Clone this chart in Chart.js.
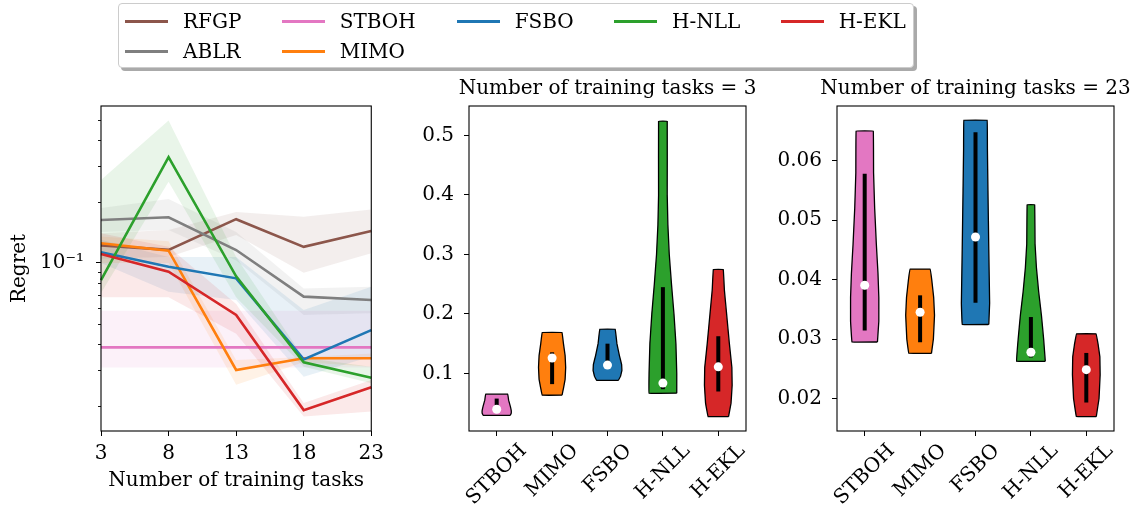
<!DOCTYPE html>
<html>
<head>
<meta charset="utf-8">
<script src="https://cdn.jsdelivr.net/npm/chart.js@4.4.0/dist/chart.umd.min.js"></script>
<style>
  body { margin: 0; background: #fff; }
  #wrap { position: relative; width: 1138px; height: 510px; overflow: hidden; }
  canvas { position: absolute; top: 0; }
  #legend {
    position: absolute; left: 118px; top: 3px; width: 796px; height: 65px;
    box-sizing: border-box; border: 1px solid #ccc; border-radius: 4px;
    box-shadow: 3px 3px 0 #aaa; background: #fff;
    display: grid; grid-template-rows: 30px 30px;
    grid-template-columns: 156.7px 175px 157.3px 166.7px auto;
    padding: 2px 0 0 6px;
    font: 20px 'DejaVu Serif', serif; color: #000;
  }
  #legend .item { display: flex; align-items: center; }
  #legend .swatch { display: inline-block; width: 43px; height: 3px; margin-right: 15px; }
</style>
</head>
<body>
<div id="wrap">
  <canvas id="lineChart" width="390" height="510" style="left:0"></canvas>
  <canvas id="violin3" width="370" height="510" style="left:390px"></canvas>
  <canvas id="violin23" width="378" height="510" style="left:760px"></canvas>
  <div id="legend"></div>
</div>
<script>
// ---- data ----
const methods = ['RFGP', 'ABLR', 'STBOH', 'MIMO', 'FSBO', 'H-NLL', 'H-EKL'];
const colours = {
  'RFGP': '#8c564b', 'ABLR': '#7f7f7f', 'STBOH': '#e377c2', 'MIMO': '#ff7f0e',
  'FSBO': '#1f77b4', 'H-NLL': '#2ca02c', 'H-EKL': '#d62728',
};
const taskLabels = ['3', '8', '13', '18', '23'];

const rfgpMean = [0.122, 0.116, 0.164, 0.120, 0.1435];
const rfgpLow = [0.105, 0.107, 0.137, 0.0897, 0.1116];
const rfgpHigh = [0.140, 0.145, 0.178, 0.1686, 0.183];
const ablrMean = [0.1625, 0.1675, 0.1158, 0.0684, 0.0659];
const ablrLow = [0.142, 0.145, 0.103, 0.0556, 0.0567];
const ablrHigh = [0.186, 0.206, 0.142, 0.075, 0.0765];
const stbohMean = [0.0386, 0.0386, 0.0386, 0.0386, 0.0386];
const stbohLow = [0.0307, 0.0307, 0.0307, 0.0307, 0.0307];
const stbohHigh = [0.0584, 0.0584, 0.0584, 0.0584, 0.0584];
const mimoMean = [0.125, 0.115, 0.0299, 0.0341, 0.0341];
const mimoLow = [0.1, 0.1, 0.0253, 0.0326, 0.031];
const mimoHigh = [0.135, 0.128, 0.0335, 0.0346, 0.036];
const fsboMean = [0.1128, 0.0959, 0.0841, 0.0337, 0.0469];
const fsboLow = [0.1, 0.0723, 0.0659, 0.0277, 0.0348];
const fsboHigh = [0.13, 0.107, 0.107, 0.0588, 0.0765];
const hnllMean = [0.0825, 0.33, 0.086, 0.0326, 0.0274];
const hnllLow = [0.0713, 0.25, 0.068, 0.031, 0.0257];
const hnllHigh = [0.255, 0.5, 0.107, 0.0343, 0.031];
const heklMean = [0.1107, 0.0907, 0.0556, 0.019, 0.0246];
const heklLow = [0.068, 0.068, 0.045, 0.0177, 0.0187];
const heklHigh = [0.14, 0.12, 0.063, 0.0206, 0.0267];

const leftTickLabel = '10\u207B\u00B9';
const leftMajorTicks = [0.1];
const leftMinorTicks = [0.02, 0.03, 0.04, 0.05, 0.06, 0.07, 0.08, 0.09, 0.2, 0.3, 0.4, 0.5];

const violinNames = ['STBOH', 'MIMO', 'FSBO', 'H-NLL', 'H-EKL'];

// 3 training tasks: outline as [regret, half width] from bottom to top
const t3Outline = [
  [[0.0296, 0.245], [0.033, 0.262], [0.038, 0.262], [0.045, 0.245], [0.055, 0.215], [0.065, 0.2]],
  [[0.0634, 0.18], [0.075, 0.205], [0.09, 0.235], [0.11, 0.245], [0.13, 0.235], [0.15, 0.205], [0.1687, 0.18]],
  [[0.0882, 0.195], [0.095, 0.235], [0.105, 0.26], [0.115, 0.255], [0.13, 0.215], [0.15, 0.17], [0.1744, 0.14]],
  [[0.0668, 0.25], [0.1, 0.25], [0.15, 0.235], [0.2, 0.2], [0.25, 0.155], [0.3, 0.115], [0.35, 0.09], [0.4, 0.078], [0.524, 0.078]],
  [[0.0273, 0.185], [0.05, 0.23], [0.08, 0.25], [0.11, 0.245], [0.15, 0.2], [0.2, 0.15], [0.24, 0.11], [0.2746, 0.09]],
];
const t3Q1 = [0.037, 0.082, 0.11, 0.0735, 0.0696];
const t3Median = [0.0397, 0.126, 0.114, 0.0837, 0.111];
const t3Q3 = [0.0577, 0.1355, 0.15, 0.245, 0.1625];
const t3Ticks = [0.1, 0.2, 0.3, 0.4, 0.5];

// 23 training tasks
const t23Outline = [
  [[0.0295, 0.23], [0.033, 0.255], [0.037, 0.255], [0.041, 0.24], [0.046, 0.21], [0.052, 0.18], [0.058, 0.16], [0.065, 0.155]],
  [[0.0276, 0.205], [0.03, 0.24], [0.034, 0.26], [0.037, 0.245], [0.04, 0.21], [0.04175, 0.18]],
  [[0.03245, 0.24], [0.036, 0.255], [0.045, 0.24], [0.055, 0.225], [0.062, 0.215], [0.0668, 0.21]],
  [[0.02625, 0.26], [0.03, 0.23], [0.034, 0.19], [0.038, 0.14], [0.042, 0.1], [0.046, 0.075], [0.0526, 0.068]],
  [[0.01696, 0.18], [0.02, 0.23], [0.024, 0.25], [0.027, 0.245], [0.029, 0.215], [0.03087, 0.175]],
];
const t23Q1 = [0.03144, 0.02946, 0.0361, 0.0269, 0.01932];
const t23Median = [0.03904, 0.0345, 0.04716, 0.02777, 0.02485];
const t23Q3 = [0.0578, 0.03735, 0.0648, 0.0337, 0.02766];
const t23Ticks = [0.02, 0.03, 0.04, 0.05, 0.06];

// ---- helpers ----
function alpha(hex, a) {
  const n = parseInt(hex.slice(1), 16);
  return `rgba(${(n >> 16) & 255},${(n >> 8) & 255},${n & 255},${a})`;
}

Chart.defaults.font.family = "'DejaVu Serif', serif";
Chart.defaults.font.size = 20;
Chart.defaults.color = '#000';
Chart.defaults.animation = false;

const FONT = "20px 'DejaVu Serif', serif";

// frame, titles, minor ticks and rotated labels
const decor = {
  id: 'decor',
  afterDraw(chart, args, opts) {
    const { ctx, chartArea: a } = chart;
    ctx.save();
    ctx.strokeStyle = '#000';
    ctx.lineWidth = 1.1;
    ctx.strokeRect(a.left, a.top, a.right - a.left, a.bottom - a.top);
    ctx.fillStyle = '#000';
    ctx.font = FONT;
    if (opts.title) {
      ctx.textAlign = 'center';
      ctx.textBaseline = 'alphabetic';
      ctx.fillText(opts.title, (a.left + a.right) / 2, a.top - 12);
    }
    if (opts.xTitle) {
      ctx.textAlign = 'center';
      ctx.textBaseline = 'alphabetic';
      ctx.fillText(opts.xTitle, (a.left + a.right) / 2, 486);
    }
    if (opts.yTitle) {
      ctx.save();
      ctx.translate(25, (a.top + a.bottom) / 2);
      ctx.rotate(-Math.PI / 2);
      ctx.textAlign = 'center';
      ctx.textBaseline = 'alphabetic';
      ctx.fillText(opts.yTitle, 0, 0);
      ctx.restore();
    }
    if (opts.minorTicks) {
      const y = chart.scales.y;
      ctx.lineWidth = 0.9;
      opts.minorTicks.forEach((v) => {
        const py = Math.round(y.getPixelForValue(v)) + 0.5;
        ctx.beginPath();
        ctx.moveTo(a.left - 3, py);
        ctx.lineTo(a.left, py);
        ctx.stroke();
      });
    }
    if (opts.rotatedLabels) {
      const x = chart.scales.x;
      opts.rotatedLabels.forEach((label, i) => {
        const w = ctx.measureText(label).width;
        const box = (w + 22) * Math.SQRT1_2;
        ctx.save();
        ctx.translate(x.getPixelForValue(i + 1), a.bottom + 9 + box / 2);
        ctx.rotate(-Math.PI / 4);
        ctx.textAlign = 'center';
        ctx.textBaseline = 'middle';
        ctx.fillText(label, 0, 0);
        ctx.restore();
      });
    }
    ctx.restore();
  },
};

// ---- left: regret vs number of training tasks ----
const lineSeries = [
  ['RFGP', rfgpMean, rfgpLow, rfgpHigh],
  ['ABLR', ablrMean, ablrLow, ablrHigh],
  ['STBOH', stbohMean, stbohLow, stbohHigh],
  ['MIMO', mimoMean, mimoLow, mimoHigh],
  ['FSBO', fsboMean, fsboLow, fsboHigh],
  ['H-NLL', hnllMean, hnllLow, hnllHigh],
  ['H-EKL', heklMean, heklLow, heklHigh],
];
const lineDatasets = [];
lineSeries.forEach(([name, mean, low, high], i) => {
  lineDatasets.push({ data: low, borderWidth: 0, pointRadius: 0, fill: false, order: 100 - i });
  lineDatasets.push({
    data: high, borderWidth: 0, pointRadius: 0, fill: '-1',
    backgroundColor: alpha(colours[name], 0.1), order: 100 - i,
  });
  lineDatasets.push({
    label: name, data: mean, borderColor: colours[name], borderWidth: 2.6,
    pointRadius: 0, fill: false, order: 20 - i,
  });
});

new Chart(document.getElementById('lineChart'), {
  type: 'line',
  data: { labels: taskLabels, datasets: lineDatasets },
  options: {
    responsive: false,
    layout: { autoPadding: false, padding: { left: 0, top: 106, right: 12, bottom: 0 } },
    plugins: {
      legend: { display: false },
      tooltip: { enabled: false },
      decor: { xTitle: 'Number of training tasks', yTitle: 'Regret', minorTicks: leftMinorTicks },
    },
    scales: {
      x: {
        offset: false,
        grid: { drawOnChartArea: false, tickLength: 5, tickColor: '#000' },
        border: { display: false },
        ticks: { padding: 6, maxRotation: 0, autoSkip: false },
        afterFit: (s) => { s.height = 79; },
      },
      y: {
        type: 'logarithmic',
        min: 0.01501,
        max: 0.5884,
        grid: { drawOnChartArea: false, tickLength: 5, tickColor: '#000' },
        border: { display: false },
        afterBuildTicks: (s) => { s.ticks = leftMajorTicks.map((v) => ({ value: v, major: true })); },
        ticks: { padding: 12, autoSkip: false, callback: () => leftTickLabel },
        afterFit: (s) => { s.width = 101; },
      },
    },
  },
  plugins: [decor],
});

// ---- violins ----
function violinDatasets(outlines, q1, med, q3) {
  const sets = [];
  violinNames.forEach((name, i) => {
    const pos = i + 1;
    const right = outlines[i].map(([v, w]) => ({ x: pos + w, y: v }));
    const left = outlines[i].slice().reverse().map(([v, w]) => ({ x: pos - w, y: v }));
    sets.push({
      data: right.concat(left, [right[0]]), showLine: true, fill: 'shape', tension: 0.02,
      backgroundColor: colours[name], borderColor: '#000', borderWidth: 1.3,
      borderJoinStyle: 'miter', pointRadius: 0, order: 3,
    });
    sets.push({
      data: [{ x: pos, y: q1[i] }, { x: pos, y: q3[i] }], showLine: true,
      borderColor: '#000', borderWidth: 4, borderCapStyle: 'butt', pointRadius: 0, order: 2,
    });
    sets.push({
      data: [{ x: pos, y: med[i] }], pointRadius: 4.5,
      pointBackgroundColor: '#fff', pointBorderWidth: 0, order: 1,
    });
  });
  return sets;
}

function violinChart(id, title, outlines, q1, med, q3, ticks, yMin, yMax, yWidth, rightPad, digits) {
  new Chart(document.getElementById(id), {
    type: 'scatter',
    data: { datasets: violinDatasets(outlines, q1, med, q3) },
    options: {
      responsive: false,
      layout: { autoPadding: false, padding: { left: 0, top: 106, right: rightPad, bottom: 0 } },
      plugins: {
        legend: { display: false },
        tooltip: { enabled: false },
        decor: { title, rotatedLabels: violinNames },
      },
      scales: {
        x: {
          type: 'linear', min: 0.5, max: 5.5,
          grid: { drawOnChartArea: false, tickLength: 5, tickColor: '#000' },
          border: { display: false },
          afterBuildTicks: (s) => { s.ticks = violinNames.map((n, i) => ({ value: i + 1 })); },
          ticks: { display: false },
          afterFit: (s) => { s.height = 79; },
        },
        y: {
          type: 'linear', min: yMin, max: yMax,
          grid: { drawOnChartArea: false, tickLength: 5, tickColor: '#000' },
          border: { display: false },
          afterBuildTicks: (s) => { s.ticks = ticks.map((v) => ({ value: v })); },
          ticks: { padding: 10, autoSkip: false, callback: (v) => v.toFixed(digits) },
          afterFit: (s) => { s.width = yWidth; },
        },
      },
    },
    plugins: [decor],
  });
}

violinChart('violin3', 'Number of training tasks = 3', t3Outline, t3Q1, t3Median, t3Q3,
  t3Ticks, 0.0032, 0.5495, 79, 14, 1);
violinChart('violin23', 'Number of training tasks = 23', t23Outline, t23Q1, t23Median, t23Q3,
  t23Ticks, 0.01453, 0.0692, 77, 24, 2);

// ---- legend: 5 columns, filled column by column like matplotlib ----
const legendBox = document.getElementById('legend');
const legendCols = 5;
const baseRows = Math.floor(methods.length / legendCols);
const largeCols = methods.length % legendCols;
const rowsPerCol = [];
for (let c = 0; c < legendCols; c += 1) rowsPerCol.push(c < largeCols ? baseRows + 1 : baseRows);
let col = 0;
let row = 0;
methods.forEach((name) => {
  const item = document.createElement('div');
  item.className = 'item';
  item.style.gridColumn = String(col + 1);
  item.style.gridRow = String(row + 1);
  item.innerHTML = `<span class="swatch" style="background:${colours[name]}"></span><span>${name}</span>`;
  legendBox.appendChild(item);
  row += 1;
  if (row >= rowsPerCol[col]) { row = 0; col += 1; }
});
</script>
</body>
</html>
